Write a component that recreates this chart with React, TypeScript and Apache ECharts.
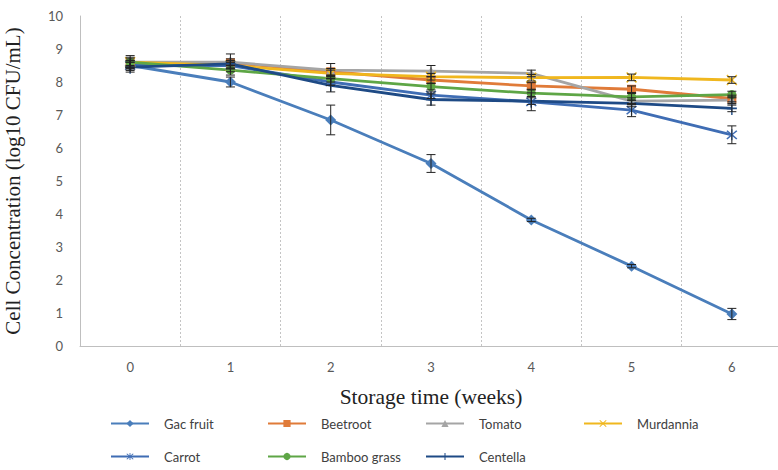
import React, { useEffect, useRef } from "react";
import * as echarts from "echarts";

const weeks = ["0", "1", "2", "3", "4", "5", "6"];
const yTicks = [0, 10];

const gacFruit = [8.5, 8.0, 6.85, 5.53, 3.82, 2.42, 0.97];
const beetroot = [8.55, 8.58, 8.31, 8.06, 7.88, 7.78, 7.5];
const tomato = [8.6, 8.6, 8.36, 8.33, 8.26, 7.42, 7.45];
const murdannia = [8.6, 8.5, 8.26, 8.16, 8.13, 8.14, 8.06];
const carrot = [8.5, 8.5, 8.0, 7.6, 7.4, 7.15, 6.4];
const bambooGrass = [8.6, 8.36, 8.1, 7.86, 7.66, 7.55, 7.62];
const centella = [8.45, 8.55, 7.9, 7.47, 7.42, 7.35, 7.2];

const gacErr = [0.15, 0.15, 0.45, 0.27, 0.05, 0.05, 0.17];
const beetErr = [0.1, 0.27, 0.1, 0.1, 0.1, 0.1, 0.1];
const tomatoErr = [0.2, 0.1, 0.2, 0.17, 0.1, 0.1, 0.1];
const murdErr = [0.1, 0.1, 0.1, 0.1, 0.1, 0.1, 0.1];
const carrotErr = [0.1, 0.1, 0.1, 0.1, 0.27, 0.2, 0.27];
const bambooErr = [0.15, 0.15, 0.1, 0.1, 0.1, 0.1, 0.1];
const centellaErr = [0.15, 0.1, 0.2, 0.17, 0.1, 0.1, 0.1];

const X_PATH =
  "path://M0,1 L1,0 L5,4 L9,0 L10,1 L6,5 L10,9 L9,10 L5,6 L1,10 L0,9 L4,5 Z";
const AST_PATH =
  "path://M0,1 L1,0 L5,4 L9,0 L10,1 L6,5 L10,9 L9,10 L5,6 L1,10 L0,9 L4,5 Z M4.4,-1 L5.6,-1 L5.6,11 L4.4,11 Z";
const PLUS_PATH =
  "path://M4.3,0 L5.7,0 L5.7,4.4 L10,4.4 L10,5.6 L5.7,5.6 L5.7,10 L4.3,10 L4.3,5.6 L0,5.6 L0,4.4 L4.3,4.4 Z";

const seriesDefs = [
  { name: "Gac fruit", data: gacFruit, err: gacErr, color: "#4a7ebb", symbol: "diamond", size: 11 },
  { name: "Beetroot", data: beetroot, err: beetErr, color: "#e07b39", symbol: "rect", size: 9 },
  { name: "Tomato", data: tomato, err: tomatoErr, color: "#a5a5a5", symbol: "triangle", size: 9 },
  { name: "Murdannia", data: murdannia, err: murdErr, color: "#f0b71e", symbol: X_PATH, size: 11 },
  { name: "Carrot", data: carrot, err: carrotErr, color: "#3f6db4", symbol: AST_PATH, size: 11 },
  { name: "Bamboo grass", data: bambooGrass, err: bambooErr, color: "#5ea646", symbol: "circle", size: 9 },
  { name: "Centella", data: centella, err: centellaErr, color: "#1e4a85", symbol: PLUS_PATH, size: [10, 13] },
];

const legendPos = [
  { left: 110, top: 417 },
  { left: 267, top: 417 },
  { left: 425, top: 417 },
  { left: 583, top: 417 },
  { left: 110, top: 450 },
  { left: 267, top: 450 },
  { left: 425, top: 450 },
];

export default function App() {
  const ref = useRef<HTMLDivElement>(null);
  useEffect(() => {
    document.body.style.margin = "0";
    const chart = echarts.init(ref.current!, undefined, { renderer: "svg" });
    const lineSeries = seriesDefs.map((s) => ({
      name: s.name,
      type: "line",
      data: s.data,
      symbol: s.symbol,
      symbolSize: s.size,
      showAllSymbol: true,
      lineStyle: { color: s.color, width: 2.8 },
      itemStyle: { color: s.color },
      z: 2,
    }));
    const errSeries = seriesDefs.map((s) => ({
      type: "custom",
      z: 4,
      silent: true,
      data: s.data.map((v, i) => [i, v - s.err[i], v + s.err[i]]),
      renderItem: (params: any, api: any) => {
        const x = api.value(0);
        const top = api.coord([x, api.value(2)]);
        const bot = api.coord([x, api.value(1)]);
        const hw = 4.5;
        const st = { stroke: "#222", lineWidth: 1 };
        return {
          type: "group",
          children: [
            { type: "line", shape: { x1: top[0], y1: top[1], x2: bot[0], y2: bot[1] }, style: st },
            { type: "line", shape: { x1: top[0] - hw, y1: top[1], x2: top[0] + hw, y2: top[1] }, style: st },
            { type: "line", shape: { x1: bot[0] - hw, y1: bot[1], x2: bot[0] + hw, y2: bot[1] }, style: st },
          ],
        };
      },
    }));
    chart.setOption({
      animation: false,
      backgroundColor: "#ffffff",
      grid: { left: 80, top: 16, right: -4, bottom: 124, containLabel: false, outerBoundsMode: "none" },
      legend: seriesDefs.map((s, i) => ({
        data: [s.name],
        left: legendPos[i].left,
        top: legendPos[i].top,
        padding: 0,
        itemWidth: 38,
        itemHeight: 9,
        selectedMode: false,
        textStyle: {
          fontFamily: "Lato",
          fontSize: 13,
          color: "#404040",
          padding: [0, 0, 0, 10],
        },
      })),
      xAxis: {
        type: "category",
        data: weeks,
        boundaryGap: true,
        name: "Storage time (weeks)",
        nameLocation: "middle",
        nameGap: 40,
        nameTextStyle: { fontFamily: "Liberation Serif", fontSize: 21.5, color: "#222" },
        axisLine: { show: true, lineStyle: { color: "#bfbfbf", width: 1 } },
        axisTick: { show: false },
        axisLabel: { margin: 14, fontFamily: "Lato", fontSize: 13, color: "#595959" },
        splitLine: { show: true, interval: 0, lineStyle: { color: "#c4c4c4", type: [2, 2], width: 1 } },
      },
      yAxis: {
        type: "value",
        min: yTicks[0],
        max: yTicks[1],
        interval: 1,
        name: "Cell Concentration (log10 CFU/mL)",
        nameLocation: "middle",
        nameGap: 57,
        nameTextStyle: { fontFamily: "Liberation Serif", fontSize: 21, color: "#222" },
        axisLine: { show: true, lineStyle: { color: "#bfbfbf", width: 1 } },
        axisTick: { show: false },
        axisLabel: { margin: 17, fontFamily: "Lato", fontSize: 13, color: "#595959" },
        splitLine: { show: false },
      },
      series: [...lineSeries, ...errSeries],
    });
    return () => chart.dispose();
  }, []);
  return (
    <div
      ref={ref}
      style={{ position: "fixed", left: 0, top: 0, width: 778, height: 470, background: "#fff" }}
    />
  );
}
